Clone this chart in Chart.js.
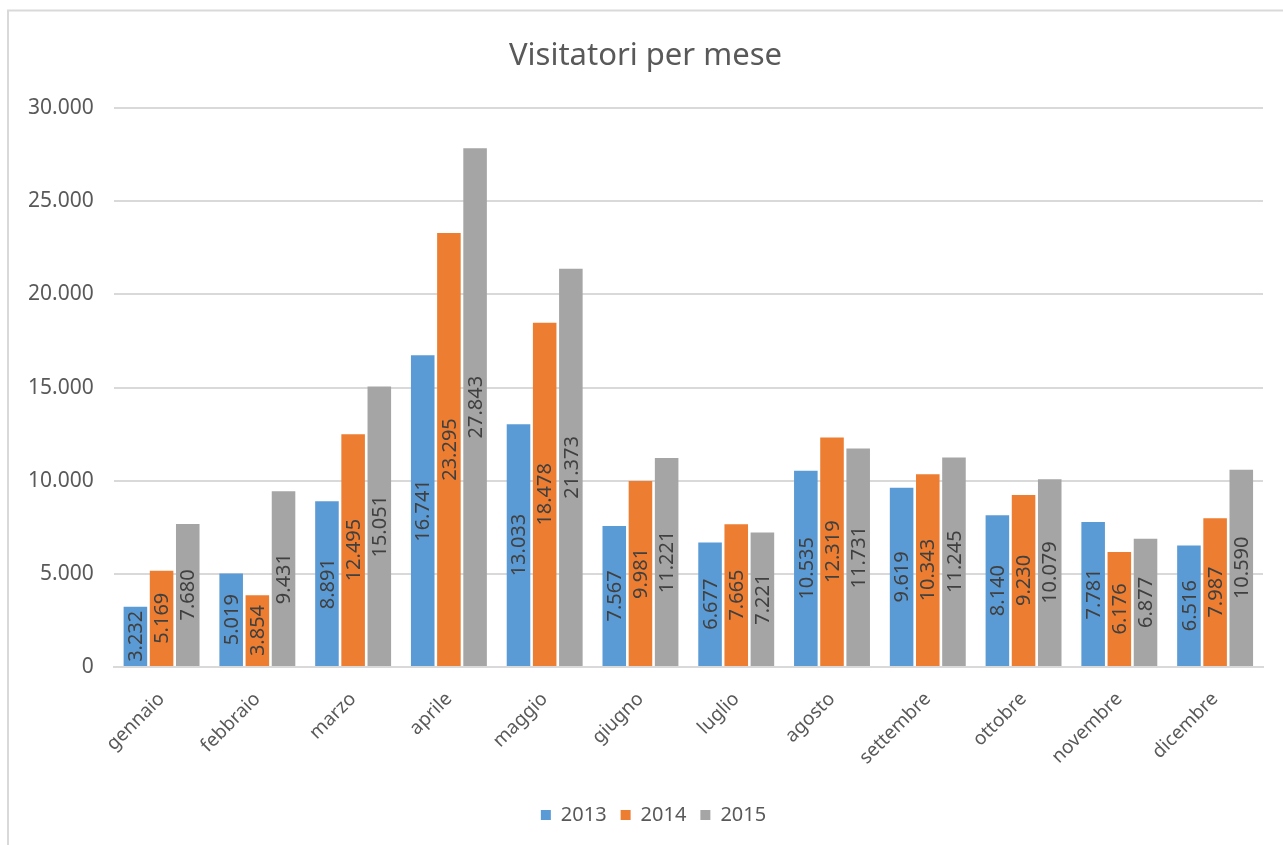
<!DOCTYPE html>
<html>
<head>
<meta charset="utf-8">
<script src="https://cdn.jsdelivr.net/npm/chart.js@4"></script>
<style>
  html, body { margin: 0; padding: 0; background: #fff; }
  #wrap { width: 1283px; height: 845px; position: relative; }
</style>
</head>
<body>
<div id="wrap"><canvas id="c" width="1283" height="845"></canvas></div>
<script>
const months = ["gennaio","febbraio","marzo","aprile","maggio","giugno","luglio","agosto","settembre","ottobre","novembre","dicembre"];
const seriesNames = ["2013","2014","2015"];
const values2013 = [3232, 5019, 8891, 16741, 13033, 7567, 6677, 10535, 9619, 8140, 7781, 6516];
const values2014 = [5169, 3854, 12495, 23295, 18478, 9981, 7665, 12319, 10343, 9230, 6176, 7987];
const values2015 = [7680, 9431, 15051, 27843, 21373, 11221, 7221, 11731, 11245, 10079, 6877, 10590];
const yTicks = [0, 5000, 10000, 15000, 20000, 25000, 30000];
const colors = ["#5B9BD5", "#ED7D31", "#A5A5A5"];
const titleText = "Visitatori per mese";

const FONT = "'Noto Sans', 'Open Sans', sans-serif";
const fmt = v => String(v).replace(/\B(?=(\d{3})+(?!\d))/g, ".");

const framePlugin = {
  id: 'frame',
  afterLayout(chart) {
    // Excel centres title and legend on the full chart frame
    const t = chart.titleBlock;
    if (t) { t.left += 10; t.right += 10; }
    const l = chart.legend;
    if (l) { l.left += 18; l.right += 18; }
  },
  beforeDraw(chart) {
    const ctx = chart.ctx;
    ctx.save();
    ctx.fillStyle = '#ffffff';
    ctx.fillRect(0, 0, chart.width, chart.height);
    ctx.strokeStyle = '#D9D9D9';
    ctx.lineWidth = 2;
    ctx.beginPath();
    ctx.moveTo(8, chart.height + 5);
    ctx.lineTo(8, 10.5);
    ctx.lineTo(chart.width + 5, 10.5);
    ctx.stroke();
    ctx.restore();
  }
};

const labelPlugin = {
  id: 'barLabels',
  afterDatasetsDraw(chart) {
    const ctx = chart.ctx;
    ctx.save();
    ctx.font = "20px " + FONT;
    ctx.fillStyle = '#404040';
    ctx.textAlign = 'center';
    ctx.textBaseline = 'middle';
    chart.data.datasets.forEach((ds, di) => {
      const meta = chart.getDatasetMeta(di);
      meta.data.forEach((bar, i) => {
        const cy = (bar.y + bar.base) / 2;
        ctx.save();
        ctx.translate(bar.x + 1, cy);
        ctx.rotate(-Math.PI / 2);
        ctx.fillText(fmt(ds.data[i]), 0, 0);
        ctx.restore();
      });
    });
    ctx.restore();
  }
};

new Chart(document.getElementById('c'), {
  type: 'bar',
  data: {
    labels: months,
    datasets: [
      { label: seriesNames[0], data: values2013, backgroundColor: colors[0] },
      { label: seriesNames[1], data: values2014, backgroundColor: colors[1] },
      { label: seriesNames[2], data: values2015, backgroundColor: colors[2] }
    ]
  },
  options: {
    responsive: false,
    animation: false,
    devicePixelRatio: 1,
    layout: { padding: { left: 8, right: 20, top: 8, bottom: 10 } },
    datasets: { bar: { categoryPercentage: 0.82, barPercentage: 0.9 } },
    plugins: {
      title: {
        display: true,
        text: titleText,
        color: '#595959',
        font: { family: FONT, size: 31, weight: 'normal' },
        padding: { top: 30, bottom: 33 }
      },
      legend: {
        position: 'bottom',
        labels: {
          color: '#595959',
          font: { family: FONT, size: 20 },
          boxWidth: 10,
          boxHeight: 10,
          padding: 14
        }
      },
      tooltip: { enabled: false }
    },
    scales: {
      x: {
        grid: { display: false, drawTicks: false },
        border: { display: true, color: '#D9D9D9', width: 2 },
        ticks: {
          color: '#595959',
          font: { family: FONT, size: 19 },
          maxRotation: 45,
          minRotation: 45,
          padding: 21
        },
        afterFit(axis) { axis.height += 1; }
      },
      y: {
        min: 0,
        max: 30000,
        afterBuildTicks(axis) { axis.ticks = yTicks.map(v => ({ value: v })); },
        grid: { color: '#D9D9D9', lineWidth: 2, drawTicks: false },
        border: { display: false },
        ticks: {
          color: '#595959',
          font: { family: FONT, size: 21 },
          padding: 20,
          callback: v => fmt(v)
        }
      }
    }
  },
  plugins: [framePlugin, labelPlugin]
});
</script>
</body>
</html>
